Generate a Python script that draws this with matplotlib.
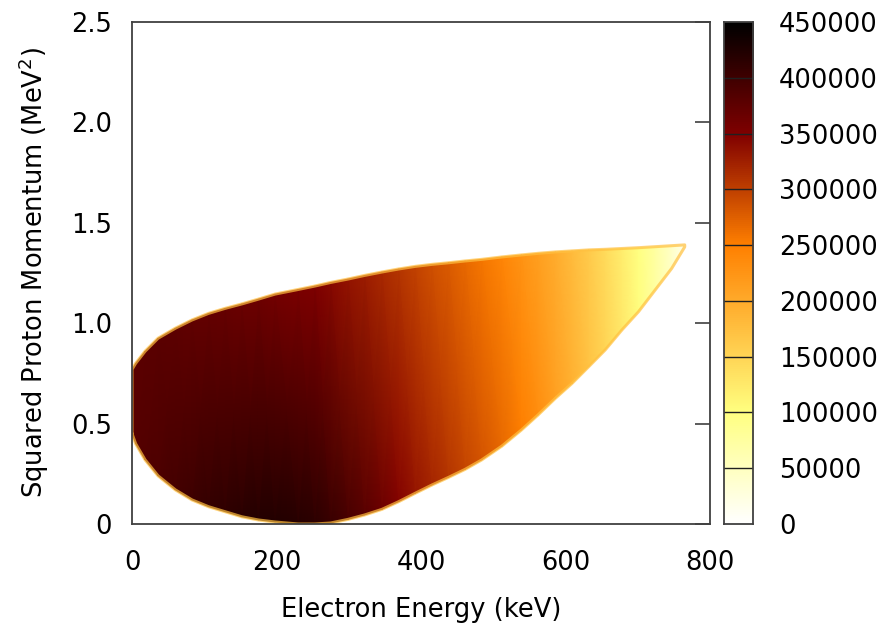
import numpy as np
import matplotlib
matplotlib.use("Agg")
import matplotlib.pyplot as plt
from matplotlib.colors import LinearSegmentedColormap, Normalize

# Electron kinetic energy (keV) along the kinematically allowed region
energy = [0, 5, 18, 36, 60, 83, 106, 129, 152, 175, 198, 230, 253, 275, 299,
          322, 346, 369, 392, 415, 438, 461, 484, 512, 539, 562, 586, 609,
          632, 655, 678, 701, 724, 747, 765]
# Lower / upper edge of the squared proton momentum (MeV^2)
p2_low = [0.45, 0.40, 0.32, 0.24, 0.17, 0.12, 0.086, 0.061, 0.036, 0.020,
          0.010, 0.0, 0.0, 0.005, 0.023, 0.045, 0.073, 0.111, 0.153, 0.194,
          0.232, 0.272, 0.319, 0.388, 0.468, 0.543, 0.626, 0.700, 0.783,
          0.867, 0.966, 1.057, 1.165, 1.273, 1.380]
p2_high = [0.77, 0.80, 0.86, 0.925, 0.975, 1.016, 1.049, 1.074, 1.096, 1.120,
           1.145, 1.168, 1.185, 1.203, 1.220, 1.238, 1.255, 1.270, 1.283,
           1.293, 1.301, 1.310, 1.318, 1.330, 1.340, 1.348, 1.355, 1.360,
           1.365, 1.368, 1.372, 1.376, 1.381, 1.386, 1.390]
# Counts along the lower and upper edges
counts_low = [380000, 382000, 385000, 390000, 396000, 402000, 408000, 413000,
              418000, 421000, 422000, 420000, 415000, 405000, 392000, 380000,
              365000, 348000, 333000, 320000, 308000, 296000, 284000, 268000,
              250000, 233000, 212000, 192000, 171000, 150000, 127000, 102000,
              75000, 45000, 15000]
counts_high = [378000, 378000, 378000, 378000, 377000, 374000, 372000, 370000,
               367000, 364000, 360000, 355000, 350000, 343000, 335000, 327000,
               318000, 308000, 298000, 288000, 278000, 268000, 257000, 243000,
               228000, 214000, 198000, 180000, 162000, 143000, 122000, 100000,
               75000, 45000, 15000]

cb_ticks = [0, 50000, 100000, 150000, 200000, 250000, 300000, 350000,
            400000, 450000]
x_ticks = [0, 200, 400, 600, 800]
y_ticks = [0, 0.5, 1.0, 1.5, 2.0, 2.5]
y_tick_labels = ["0", "0.5", "1.0", "1.5", "2.0", "2.5"]

vmax = 450000
cmap = LinearSegmentedColormap.from_list(
    "heat",
    [(0.0, "#ffffff"), (100000 / vmax, "#ffff80"), (250000 / vmax, "#ff8000"),
     (350000 / vmax, "#800000"), (1.0, "#000000")])
norm = Normalize(0, vmax)

FS = 18.5
plt.rcParams["font.family"] = ["DejaVu Sans"]
fig = plt.figure(figsize=(8.83, 6.32), dpi=100)
ax = fig.add_axes([132 / 883, 1 - 524 / 632, 578 / 883, 502 / 632])
cax = fig.add_axes([723.5 / 883, 1 - 524 / 632, 29 / 883, 502 / 632])

X = np.vstack([energy, energy])
Y = np.vstack([p2_low, p2_high])
C = np.vstack([counts_low, counts_high])
ax.pcolormesh(X, Y, C, shading="gouraud", cmap=cmap, norm=norm)

# light rim of partially filled bins along the edge of the region
edge_x = list(energy) + list(energy[::-1]) + [energy[0]]
edge_y = list(p2_low) + list(p2_high[::-1]) + [p2_low[0]]
ax.plot(edge_x, edge_y, color="#ffc040", lw=2.2, alpha=0.7,
        solid_joinstyle="round")

ax.set_xlim(0, 800)
ax.set_ylim(0, 2.5)
ax.set_xticks(x_ticks)
ax.set_yticks(y_ticks)
ax.set_yticklabels(y_tick_labels)
frame_col = "#404040"
for s in ax.spines.values():
    s.set_color(frame_col)
    s.set_linewidth(1.3)
    s.set_zorder(5)
ax.tick_params(axis="x", bottom=False, top=False, labelsize=FS, pad=15)
ax.tick_params(axis="y", direction="in", left=False, right=True,
               labelleft=True, labelright=False, length=10.5, width=1.2,
               color=frame_col, labelsize=FS, pad=14.5)
ax.set_xlabel("Electron Energy (keV)", fontsize=FS, labelpad=15)
ax.set_ylabel("Squared Proton Momentum (MeV$^2$)", fontsize=FS,
              labelpad=14)

# colour bar
grad = np.linspace(0, vmax, 512).reshape(-1, 1)
cax.imshow(grad, aspect="auto", origin="lower", cmap=cmap, norm=norm,
           extent=[0, 1, 0, vmax])
cax.set_xlim(0, 1)
cax.set_ylim(0, vmax)
for t in cb_ticks[1:-1]:
    cax.axhline(t, color="#202020", lw=1.0)
for s in cax.spines.values():
    s.set_color(frame_col)
    s.set_linewidth(1.3)
cax.set_xticks([])
cax.yaxis.tick_right()
cax.set_yticks(cb_ticks)
cax.set_yticklabels([str(t) for t in cb_ticks])
cax.tick_params(axis="y", length=0, labelsize=FS, pad=19)

fig.savefig("out.png", dpi=100)
